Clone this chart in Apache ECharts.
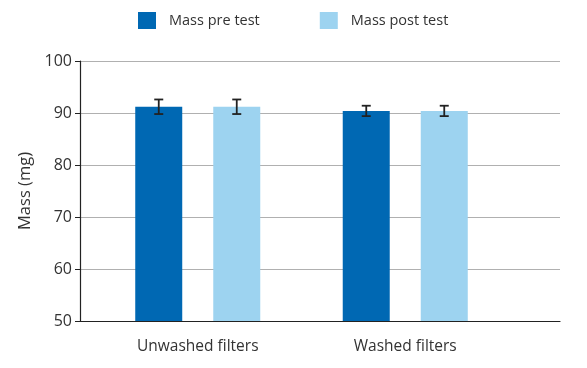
<!DOCTYPE html>
<html><head><meta charset="utf-8">
<script src="https://cdn.jsdelivr.net/npm/echarts@6/dist/echarts.min.js"></script>
<style>html,body{margin:0;padding:0;background:#fff}#c{width:587px;height:368px}</style>
</head><body><div id="c"></div>
<script>
const categories = ['Unwashed filters', 'Washed filters'];
const seriesNames = ['Mass pre test', 'Mass post test'];
const preValues = [91.2, 90.4];
const postValues = [91.2, 90.4];
const preErr = [1.4, 1.0];
const postErr = [1.4, 1.0];
const yTicks = [50, 60, 70, 80, 90, 100];

const FONT = '"Open Sans", "Noto Sans", sans-serif';
const TXT = '#333';
const BAR_W = 47, BAR_OFF = 39;

function errData(vals, errs) {
  return vals.map((v, i) => [i, v - errs[i], v + errs[i]]);
}
function errRender(offset) {
  return function (params, api) {
    const lo = api.coord([api.value(0), api.value(1)]);
    const hi = api.coord([api.value(0), api.value(2)]);
    const x = lo[0] + offset, w = 4.5;
    const st = { stroke: '#222', lineWidth: 1.8 };
    return { type: 'group', children: [
      { type: 'line', shape: { x1: x, y1: hi[1], x2: x, y2: lo[1] }, style: st },
      { type: 'line', shape: { x1: x - w, y1: hi[1], x2: x + w, y2: hi[1] }, style: st },
      { type: 'line', shape: { x1: x - w, y1: lo[1], x2: x + w, y2: lo[1] }, style: st }
    ]};
  };
}

const chart = echarts.init(document.getElementById('c'), null, { renderer: 'canvas' });
chart.setOption({
  animation: false,
  textStyle: { fontFamily: FONT, color: TXT },
  legend: {
    data: seriesNames, left: 138, top: 12, padding: 0, itemWidth: 18, itemHeight: 17, itemGap: 60,
    icon: 'rect',
    textStyle: { fontSize: 14.5, color: TXT, fontFamily: FONT, padding: [0, 0, 0, 8] }
  },
  grid: [
    { left: 80, right: 27, top: 61, bottom: 47 },
    { left: 94, width: 415, top: 61, bottom: 47 }
  ],
  xAxis: [
    { gridIndex: 0, type: 'value', min: 0, max: 1, axisLine: { show: true, lineStyle: { color: '#222', width: 1.2 } },
      axisTick: { show: false }, axisLabel: { show: false }, splitLine: { show: false } },
    { gridIndex: 1, type: 'category', data: categories, axisLine: { show: false }, axisTick: { show: false },
      axisLabel: { fontSize: 15.5, color: TXT, fontFamily: FONT, margin: 18 } }
  ],
  yAxis: [
    { gridIndex: 0, type: 'value', min: yTicks[0], max: yTicks[yTicks.length - 1], interval: 10,
      name: 'Mass (mg)', nameLocation: 'middle', nameGap: 40, nameRotate: 90,
      nameTextStyle: { fontSize: 16.5, color: TXT, fontFamily: FONT },
      axisLine: { show: true, lineStyle: { color: '#222', width: 1.2 } },
      axisTick: { show: true, length: 5, lineStyle: { color: '#222' } },
      axisLabel: { fontSize: 16, color: TXT, fontFamily: FONT, margin: 8 },
      splitLine: { show: true, lineStyle: { color: '#b0b0b0', width: 1 } } },
    { gridIndex: 1, type: 'value', min: yTicks[0], max: yTicks[yTicks.length - 1], show: false, splitLine: { show: false } }
  ],
  series: [
    { name: seriesNames[0], type: 'bar', xAxisIndex: 1, yAxisIndex: 1, data: preValues,
      barWidth: BAR_W, barGap: '66%', itemStyle: { color: '#0068b3' } },
    { name: seriesNames[1], type: 'bar', xAxisIndex: 1, yAxisIndex: 1, data: postValues,
      barWidth: BAR_W, itemStyle: { color: '#9dd3f0' } },
    { type: 'custom', xAxisIndex: 1, yAxisIndex: 1, data: errData(preValues, preErr),
      renderItem: errRender(-BAR_OFF), z: 10 },
    { type: 'custom', xAxisIndex: 1, yAxisIndex: 1, data: errData(postValues, postErr),
      renderItem: errRender(BAR_OFF), z: 10 }
  ]
});
</script></body></html>
